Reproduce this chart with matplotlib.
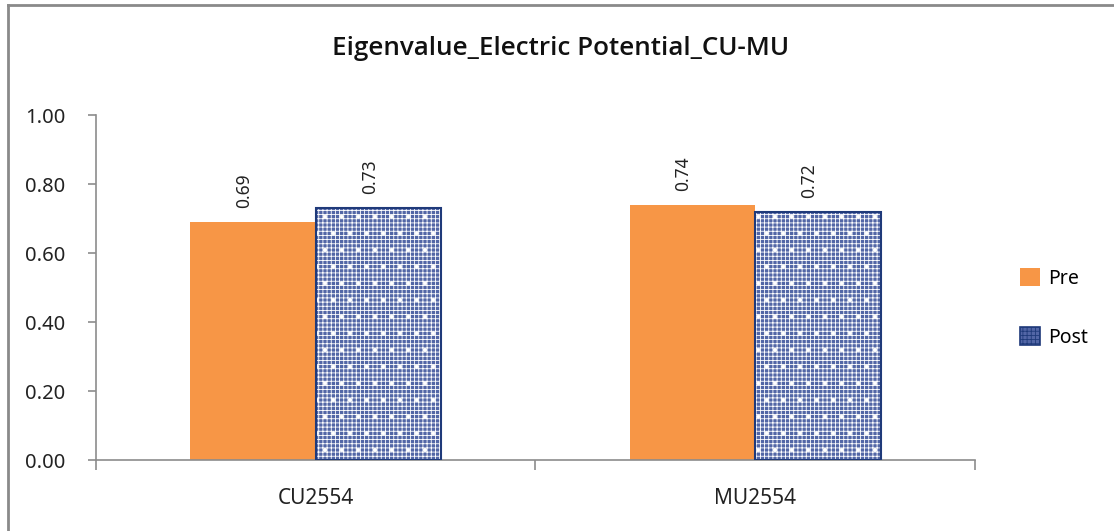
import matplotlib
matplotlib.use("Agg")
import matplotlib.pyplot as plt
from matplotlib.patches import Patch
from matplotlib.lines import Line2D
import numpy as np

# ---- data ----
categories = ["CU2554", "MU2554"]
pre_vals = [0.69, 0.74]
post_vals = [0.73, 0.72]
y_ticks = [0.0, 0.2, 0.4, 0.6, 0.8, 1.0]

ORANGE = "#f79646"
NAVY = "#1f3a7a"
PATTERN_FACE = "#5266a6"
AXIS_GREY = "#8c8c8c"
TXT = "#222222"

plt.rcParams["font.family"] = ["Noto Sans", "DejaVu Sans"]
plt.rcParams["hatch.linewidth"] = 0.6

fig = plt.figure(figsize=(11.14, 5.31), dpi=100)
ax = fig.add_axes([0.0862, 0.1337, 0.789, 0.6497])

x = np.arange(len(categories))
w = 0.286

ax.bar(x - w / 2, pre_vals, w, color=ORANGE, linewidth=0, zorder=2)
# patterned bars: fine white grid + white dots on blue, navy outline on top
ax.bar(x + w / 2, post_vals, w, color=PATTERN_FACE, edgecolor="white",
       hatch="++++", linewidth=0, zorder=2)
ax.bar(x + w / 2, post_vals, w, fill=False, edgecolor="white",
       hatch=".", linewidth=0, zorder=2.5)
ax.bar(x + w / 2, post_vals, w, fill=False, edgecolor=NAVY, linewidth=1.5, zorder=3)

for xi, v in zip(x - w / 2, pre_vals):
    ax.text(xi - 0.02, v + 0.04, f"{v:.2f}", rotation=90, ha="center", va="bottom",
            fontsize=12.5, color=TXT)
for xi, v in zip(x + w / 2, post_vals):
    ax.text(xi - 0.02, v + 0.04, f"{v:.2f}", rotation=90, ha="center", va="bottom",
            fontsize=12.5, color=TXT)

ax.set_xlim(-0.5, 1.5)
ax.set_ylim(0, 1.0)
ax.set_yticks(y_ticks)
ax.set_yticklabels([f"{t:.2f}" for t in y_ticks], fontsize=14.5, color=TXT)
ax.set_xticks(x)
ax.set_xticklabels(categories, fontsize=15, color=TXT)
ax.set_xticks([-0.5, 0.5, 1.5], minor=True)
ax.tick_params(axis="x", which="major", length=0, pad=20)
ax.tick_params(axis="x", which="minor", length=7, color=AXIS_GREY, width=1.2)
ax.tick_params(axis="y", length=6, color=AXIS_GREY, width=1.2, pad=16)

for s in ["top", "right"]:
    ax.spines[s].set_visible(False)
for s in ["left", "bottom"]:
    ax.spines[s].set_color(AXIS_GREY)
    ax.spines[s].set_linewidth(1.2)

fig.text(0.503, 0.908, "Eigenvalue_Electric Potential_CU-MU", ha="center", va="center",
         fontsize=18.7, fontweight="semibold", color="#111111",
         family=["Open Sans", "Noto Sans", "DejaVu Sans"])

handles = [Patch(facecolor=ORANGE, edgecolor="none", label="Pre"),
           Patch(facecolor=PATTERN_FACE, edgecolor=NAVY, hatch="++++", linewidth=1.2, label="Post")]
fig.legend(handles=handles, loc="center left", bbox_to_anchor=(0.9, 0.42), frameon=False,
           fontsize=14, handlelength=1.0, handleheight=1.0, handletextpad=0.45, labelspacing=2.0)

# outer chart border (left and top edges)
fig.add_artist(Line2D([0.0072, 0.0072], [0, 0.99], transform=fig.transFigure,
                      color="#8a8a8a", linewidth=2))
fig.add_artist(Line2D([0.0072, 1.0], [0.99, 0.99], transform=fig.transFigure,
                      color="#8a8a8a", linewidth=2))

fig.savefig("out.png", dpi=100)
